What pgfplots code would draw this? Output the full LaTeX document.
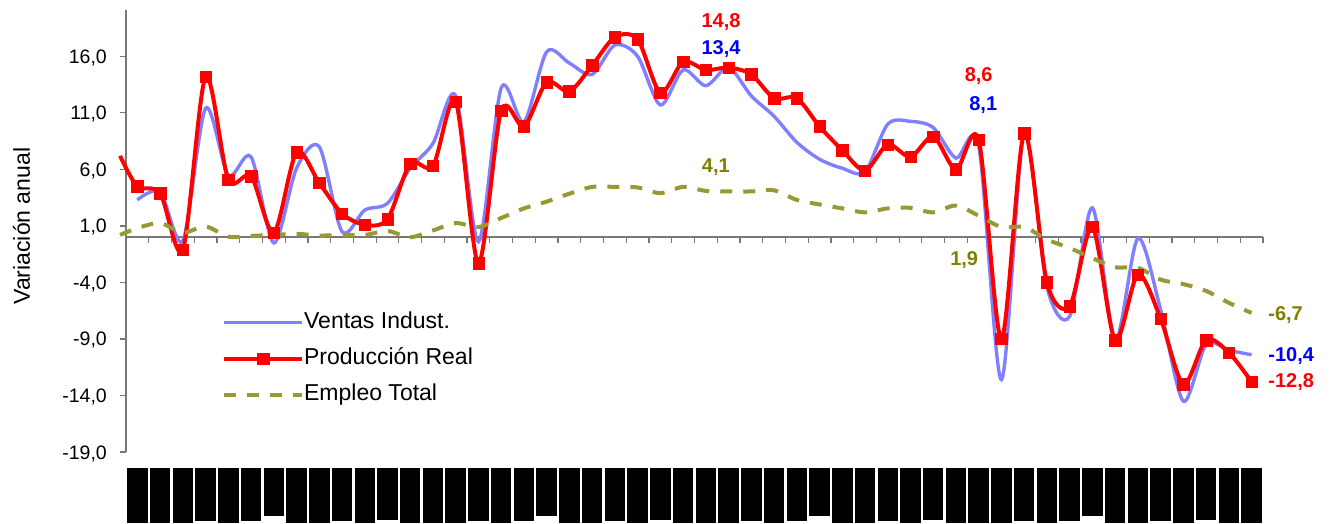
\documentclass[border=0pt]{standalone}
\usepackage{pgfplots}
\pgfplotsset{compat=1.18}
\usepackage{pgfplotstable}
\usepackage{fontspec}
\setmainfont{Liberation Sans}

\definecolor{ventas}{RGB}{128,128,255}
\definecolor{prod}{RGB}{255,0,0}
\definecolor{empleo}{RGB}{153,153,51}
\definecolor{empleotxt}{RGB}{128,128,0}
\definecolor{ventastxt}{RGB}{0,0,255}
\definecolor{ejes}{RGB}{120,120,120}

% etiquetas del eje x (ilegibles en el original: bloques negros)
\newcommand{\bA}{\rule{20.5pt}{55pt}}
\newcommand{\bB}{\rule{20.5pt}{53.3pt}}
\newcommand{\bC}{\rule{20.5pt}{52.3pt}}
\newcommand{\bD}{\rule{20.5pt}{48.3pt}}

% i = mes, R = produccion real, B = ventas indust., G = empleo total
\pgfplotstableread{
i      R      B      G
-0.76  7.2    nan    0.2
0      4.5    3.3    0.8
1      3.9    4.0    1.25
2     -1.1   -0.3    0.4
3     14.2   11.4    0.95
4      5.1    5.5    0.05
5      5.4    7.1    0.12
6      0.4   -0.5    0.2
7      7.5    6.1    0.3
8      4.8    8.0    0.15
9      2.1    0.5    0.2
10     1.1    2.4    0.2
11     1.6    3.0    0.55
12     6.5    6.1    0.0
13     6.3    8.3    0.6
14    12.0   12.5    1.25
15    -2.3   -0.4    0.9
16    11.2   13.2    1.7
17     9.8   10.2    2.55
18    13.7   16.4    3.15
19    12.9   15.4    3.85
20    15.2   14.4    4.45
21    17.7   17.0    4.45
22    17.5   16.0    4.4
23    12.8   11.7    3.9
24    15.5   14.8    4.45
25    14.8   13.4    4.1
26    15.0   15.0    4.05
27    14.4   12.5    4.05
28    12.3   10.7    4.15
29    12.3    8.4    3.3
30     9.8    6.9    2.9
31     7.7    6.1    2.55
32     5.9    5.8    2.2
33     8.2   10.0    2.55
34     7.1   10.25   2.6
35     8.9    9.7    2.2
36     6.0    7.0    2.8
37     8.6    8.1    1.9
38    -9.0  -12.6    0.9
39     9.2    9.2    0.9
40    -4.0   -4.4   -0.2
41    -6.1   -7.0   -0.95
42     0.9    2.6   -1.85
43    -9.1   -9.1   -2.65
44    -3.3   -0.1   -2.7
45    -7.2   -6.4   -3.75
46   -13.0  -14.5   -4.15
47    -9.1   -9.5   -4.75
48   -10.2  -10.0   -5.8
49   -12.8  -10.4   -6.7
}\datos

\begin{document}
\begin{tikzpicture}
\begin{axis}[
    at={(0,0)}, anchor=south west,
    width=1137pt, height=442pt, scale only axis,
    xmin=-0.5, xmax=49.5,
    ymin=-19, ymax=20.1,
    clip=false,
    axis x line*=bottom, axis y line*=left,
    x axis line style={draw=none},
    y axis line style={ejes, line width=2pt},
    xtick={0,...,49},
    xticklabels={\bA,\bA,\bA,\bB,\bA,\bB,\bD,\bA,\bA,\bB,\bA,\bC,
                 \bA,\bA,\bA,\bB,\bA,\bB,\bD,\bA,\bA,\bB,\bA,\bC,
                 \bA,\bA,\bA,\bB,\bA,\bB,\bD,\bA,\bA,\bB,\bA,\bC,
                 \bA,\bA,\bA,\bB,\bA,\bB,\bD,\bA,\bA,\bB,\bA,\bC,
                 \bA,\bA},
    xtick style={draw=none},
    xticklabel style={anchor=north, inner sep=0pt, yshift=-15.7pt},
    ytick={-19,-14,...,16},
    ytick align=outside,
    major tick length=6pt,
    ytick style={ejes, line width=1.2pt},
    /pgf/number format/assume math mode=true,
    yticklabel={\pgfmathprintnumber[fixed,fixed zerofill,precision=1,use comma]{\tick}},
    yticklabel style={font=\fontsize{19.5}{22}\selectfont, inner sep=0pt, anchor=base east, xshift=-13pt, yshift=-7pt},
    ylabel={Variación anual},
    ylabel style={at={(axis description cs:-0.0845,0.511)}, anchor=base, font=\fontsize{23}{26}\selectfont},
    legend image code/.code={\draw[mark repeat=2,mark phase=2,#1] plot coordinates {(0pt,0pt) (39pt,0pt) (78pt,0pt)};},
    legend style={draw=none, fill=none, inner sep=0pt, at={(axis description cs:0.0844,0.318)}, anchor=north west,
        font=\fontsize{23}{26}\selectfont, row sep=14pt,
        nodes={inner sep=0pt, text height=17pt, text depth=5pt}},
    legend cell align=left,
]
% eje horizontal en cero con sus marcas
\draw[ejes, line width=2pt] (axis cs:-0.5,0) -- (axis cs:49.5,0);
\pgfplotsinvokeforeach{-0.5,0.5,...,49.5}{\draw[ejes, line width=1.2pt] (axis cs:#1,0) -- ++(0pt,-6pt);}

\addplot[ventas, line width=3.4pt, smooth] table[x=i, y=B] {\datos};
\addlegendentry{Ventas Indust.}

\addplot[prod, line width=4pt, smooth, forget plot] table[x=i, y=R] {\datos};
\addplot[only marks, mark=square*, mark size=5.7pt, mark options={fill=prod, draw=prod, line width=0.5pt},
    skip coords between index={0}{1}, forget plot] table[x=i, y=R] {\datos};
\addlegendimage{prod, line width=4pt, mark=square*, mark size=5.7pt, mark options={fill=prod, draw=prod, line width=0.5pt}}
\addlegendentry{Producción Real}

\addplot[empleo, line width=4pt, dash pattern=on 12pt off 11pt, smooth] table[x=i, y=G] {\datos};
\addlegendentry{Empleo Total}

% valores destacados
\begin{scope}[every node/.style={font=\bfseries\fontsize{20}{22}\selectfont, inner sep=0pt}]
\node[prod, anchor=base] at (axis cs:25.67,18.59) {14,8};
\node[ventastxt, anchor=base] at (axis cs:25.67,16.12) {13,4};
\node[empleotxt, anchor=base] at (axis cs:25.44,5.73) {4,1};
\node[prod, anchor=base] at (axis cs:37.0,13.74) {8,6};
\node[ventastxt, anchor=base] at (axis cs:37.2,11.24) {8,1};
\node[empleotxt, anchor=base] at (axis cs:36.36,-2.5) {1,9};
\node[empleotxt, anchor=base west] at (axis cs:49.73,-7.35) {-6,7};
\node[ventastxt, anchor=base west] at (axis cs:49.73,-11.03) {-10,4};
\node[prod, anchor=base west] at (axis cs:49.73,-13.33) {-12,8};
\end{scope}
\end{axis}
\pgfresetboundingbox
\useasboundingbox (-126pt,-71pt) rectangle (1204pt,452pt);
\end{tikzpicture}
\end{document}
